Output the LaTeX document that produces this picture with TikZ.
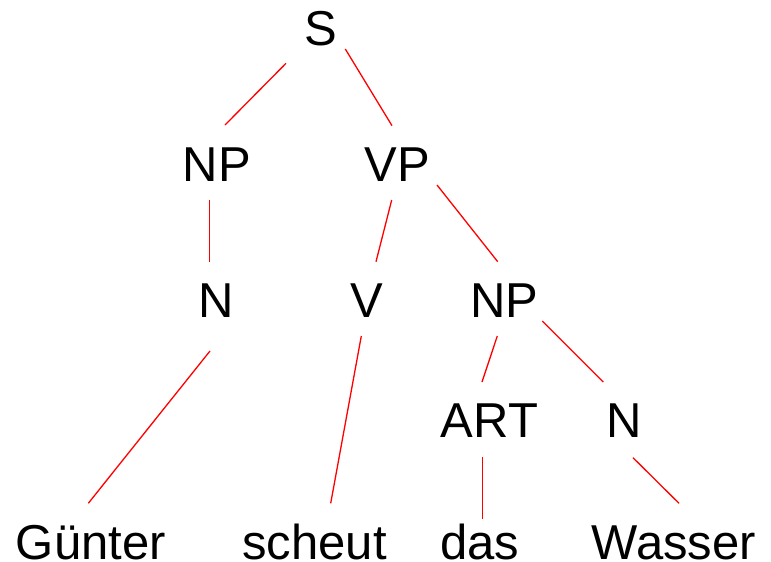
\documentclass[tikz,border=0pt]{standalone}
\usepackage{fontspec}
\setmainfont{Liberation Sans}
\usepackage{tikz}
\usetikzlibrary{calc}

\begin{document}
\begin{tikzpicture}[
            x = 1pt, y = -1pt, % pixel grid, y downwards
            every node/.style = {anchor = base, inner sep = 0pt,
                font = \fontsize{49}{58}\selectfont},
            branch/.style = {draw = red, line width = 1.3pt}
        ]

        \useasboundingbox (0,0) rectangle (771,562);

	% sentence level
        \node (S) at (321,45) {S};

        % phrases
        \node (NPa) at (216.7,181.5) {NP};
        \node (VP) at (397,181.5) {VP};

        \draw[branch] ($(S.base)+(-35,18.3)$) -- ($(NPa.base)+(8.3,-56.5)$);
        \draw[branch] ($(S.base)+(24.3,4)$) -- ($(VP.base)+(-5,-55.8)$);

        % word classes
        \node (Na) at (216,317.5) {N};
        \node (V) at (366.5,317.5) {V};
        \node (NPb) at (504.4,317.5) {NP};

        \draw[branch] ($(NPa.base)+(-7,18.5)$) -- ($(Na.base)+(-6.3,-55.8)$);
        \draw[branch] ($(VP.base)+(-5.3,18.5)$) -- ($(V.base)+(9.5,-55.8)$);
        \draw[branch] ($(VP.base)+(40,3.5)$) -- ($(NPb.base)+(-6.7,-55.8)$);

        \node (ART) at (489.5,437.7) {ART};
        \node (Nb) at (624.3,437.7) {N};

        \draw[branch] ($(NPb.base)+(-7.1,18.5)$) -- ($(ART.base)+(-7.5,-55.7)$);
        \draw[branch] ($(NPb.base)+(37.9,3.5)$) -- ($(Nb.base)+(-21,-55.7)$);

        % words
        \node (Guenter) at (90.8,559) {Günter};
        \node (scheut) at (314.5,559) {scheut};
        \node (das) at (479.5,559) {das};
        \node (Wasser) at (673.7,559) {Wasser};

        \draw[branch] ($(Na.base)+(-6,33.5)$) -- ($(Guenter.base)+(-2.5,-55.7)$);
        \draw[branch] ($(V.base)+(-5.2,18.5)$) -- ($(scheut.base)+(16.2,-55.7)$);
        \draw[branch] ($(ART.base)+(-7.2,19.3)$) -- ($(das.base)+(2.8,-40.3)$);
        \draw[branch] ($(Nb.base)+(8.7,20)$) -- ($(Wasser.base)+(5.3,-55.7)$);

\end{tikzpicture}
\end{document}
